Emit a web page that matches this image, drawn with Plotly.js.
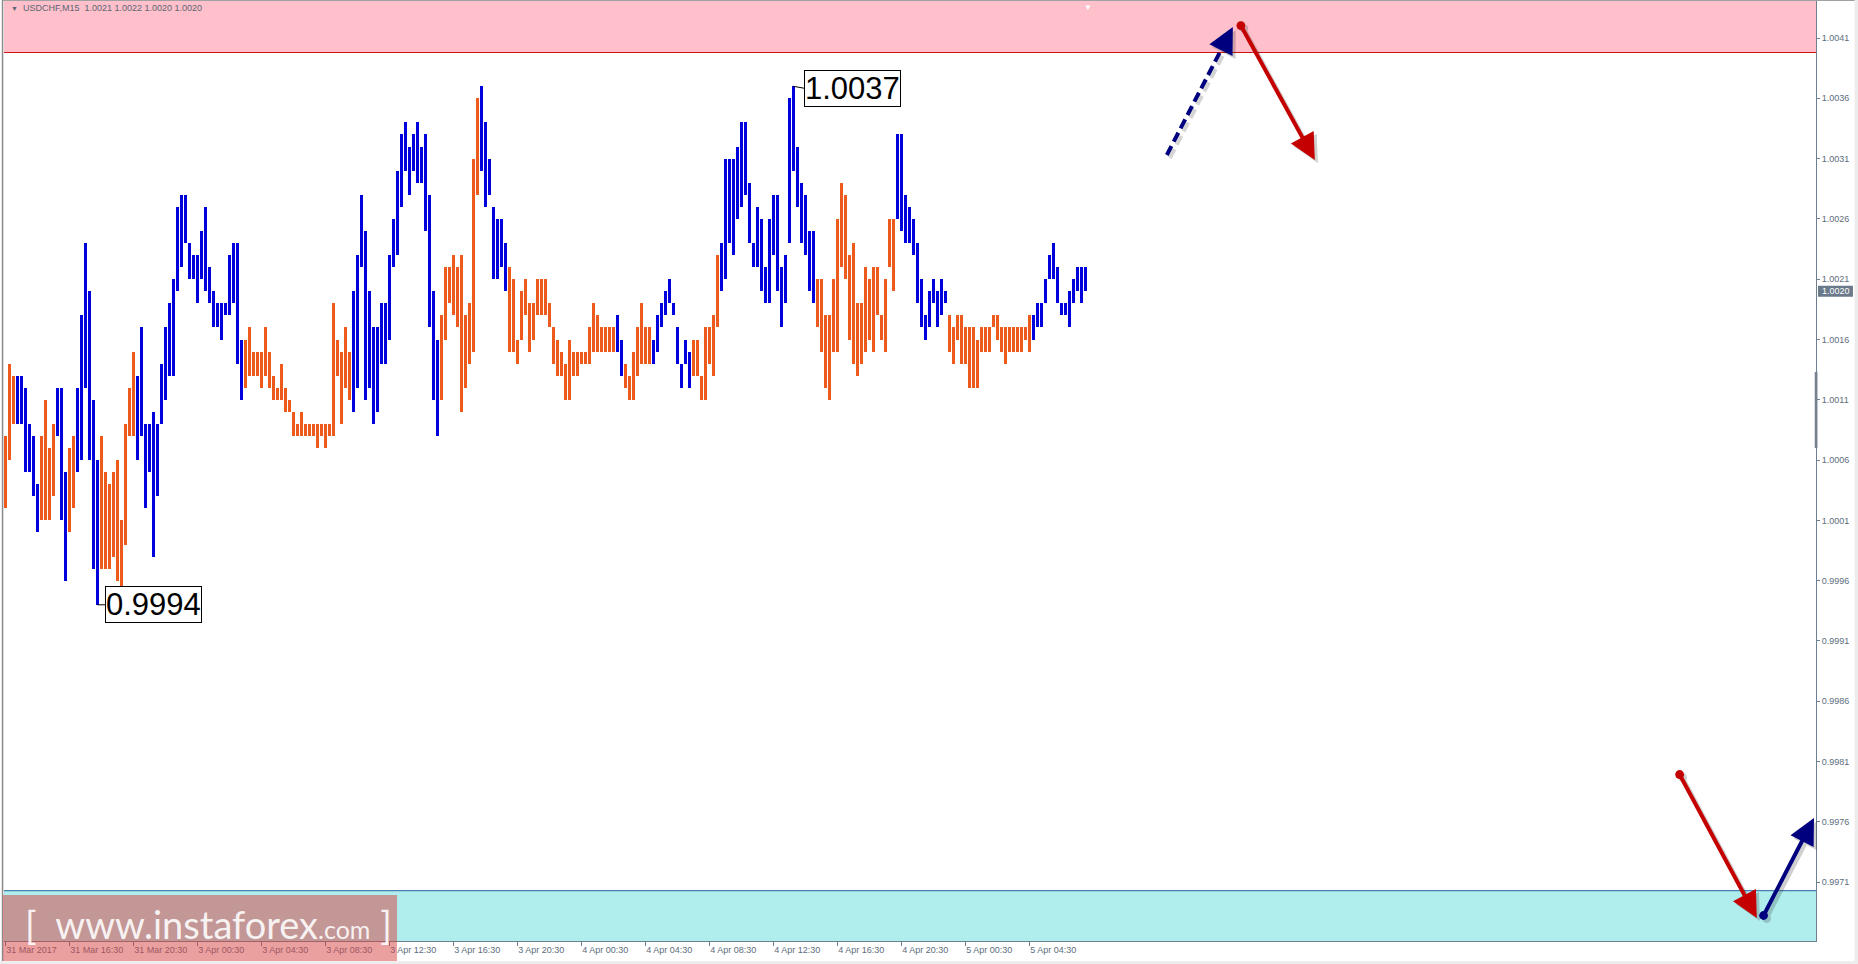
<!DOCTYPE html>
<html><head><meta charset="utf-8">
<script src="https://cdn.plot.ly/plotly-3.0.1.min.js"></script>
<style>html,body{margin:0;padding:0;background:#fff;overflow:hidden}#chart{width:1858px;height:964px}</style>
</head><body><div id="chart"></div>
<script>
// ---- data (USDCHF M15, bar high / low, 1 = blue bar, 0 = orange bar) ----
const highs = [
1.0008,1.0014,1.0013,1.0013,1.0013,1.0012,1.0009,1.0008,1.0004,1.0008,
1.0011,1.0007,1.0009,1.0012,1.0012,1.0005,1.0007,1.0008,1.0012,1.0018,
1.0024,1.0020,1.0011,1.0006,1.0008,1.0005,1.0004,1.0005,1.0006,1.0001,
1.0009,1.0012,1.0015,1.0013,1.0017,1.0009,1.0009,1.0010,1.0009,1.0014,
1.0017,1.0019,1.0021,1.0027,1.0028,1.0028,1.0024,1.0023,1.0023,1.0025,
1.0027,1.0022,1.0020,1.0019,1.0019,1.0019,1.0023,1.0024,1.0024,1.0016,
1.0016,1.0017,1.0015,1.0015,1.0015,1.0017,1.0015,1.0013,1.0012,1.0014,
1.0012,1.0011,1.0010,1.0009,1.0010,1.0009,1.0009,1.0009,1.0009,1.0009,
1.0009,1.0009,1.0019,1.0016,1.0015,1.0017,1.0015,1.0020,1.0023,1.0028,
1.0025,1.0020,1.0017,1.0017,1.0019,1.0019,1.0023,1.0026,1.0030,1.0033,
1.0034,1.0032,1.0033,1.0034,1.0032,1.0033,1.0028,1.0020,1.0016,1.0018,
1.0022,1.0022,1.0023,1.0022,1.0023,1.0018,1.0019,1.0031,1.0036,1.0037,
1.0034,1.0031,1.0027,1.0026,1.0026,1.0024,1.0022,1.0021,1.0016,1.0020,
1.0021,1.0019,1.0019,1.0021,1.0021,1.0021,1.0019,1.0017,1.0016,1.0015,
1.0014,1.0016,1.0015,1.0015,1.0015,1.0015,1.0017,1.0019,1.0018,1.0017,
1.0017,1.0017,1.0017,1.0018,1.0016,1.0014,1.0013,1.0015,1.0017,1.0019,
1.0017,1.0017,1.0016,1.0018,1.0019,1.0020,1.0021,1.0019,1.0017,1.0014,
1.0016,1.0015,1.0016,1.0016,1.0013,1.0017,1.0017,1.0018,1.0023,1.0024,
1.0031,1.0031,1.0031,1.0032,1.0034,1.0034,1.0029,1.0024,1.0027,1.0026,
1.0022,1.0026,1.0028,1.0028,1.0022,1.0023,1.0036,1.0037,1.0032,1.0029,
1.0028,1.0025,1.0025,1.0021,1.0021,1.0018,1.0018,1.0021,1.0026,1.0029,
1.0028,1.0023,1.0024,1.0019,1.0019,1.0022,1.0021,1.0022,1.0022,1.0018,
1.0021,1.0026,1.0026,1.0033,1.0033,1.0028,1.0027,1.0026,1.0024,1.0021,
1.0018,1.0020,1.0021,1.0020,1.0021,1.0020,1.0018,1.0017,1.0018,1.0018,
1.0017,1.0017,1.0017,1.0016,1.0017,1.0017,1.0017,1.0018,1.0018,1.0017,
1.0017,1.0017,1.0017,1.0017,1.0017,1.0017,1.0018,1.0018,1.0019,1.0019,
1.0021,1.0023,1.0024,1.0022,1.0019,1.0019,1.0020,1.0021,1.0022,1.0022,
1.0022];
const lows = [
1.0002,1.0006,1.0009,1.0009,1.0009,1.0005,1.0005,1.0003,1.0000,1.0001,
1.0001,1.0001,1.0003,1.0008,1.0001,0.9996,1.0000,1.0002,1.0005,1.0006,
1.0012,1.0006,0.9997,0.9994,0.9997,0.9997,0.9997,0.9998,0.9996,0.9995,
0.9999,1.0008,1.0008,1.0006,1.0008,1.0002,1.0005,0.9998,1.0003,1.0009,
1.0011,1.0013,1.0013,1.0020,1.0022,1.0024,1.0021,1.0021,1.0019,1.0021,
1.0020,1.0019,1.0017,1.0017,1.0016,1.0018,1.0018,1.0019,1.0014,1.0011,
1.0012,1.0013,1.0013,1.0013,1.0012,1.0013,1.0012,1.0011,1.0011,1.0011,
1.0010,1.0010,1.0008,1.0008,1.0008,1.0008,1.0008,1.0008,1.0007,1.0008,
1.0007,1.0008,1.0008,1.0013,1.0009,1.0012,1.0011,1.0010,1.0012,1.0022,
1.0011,1.0012,1.0009,1.0010,1.0014,1.0014,1.0016,1.0022,1.0023,1.0027,
1.0030,1.0028,1.0030,1.0029,1.0029,1.0025,1.0017,1.0011,1.0008,1.0011,
1.0016,1.0019,1.0018,1.0017,1.0010,1.0012,1.0014,1.0015,1.0028,1.0030,
1.0027,1.0028,1.0021,1.0021,1.0022,1.0020,1.0015,1.0015,1.0014,1.0016,
1.0018,1.0015,1.0016,1.0018,1.0018,1.0018,1.0017,1.0014,1.0013,1.0013,
1.0011,1.0011,1.0013,1.0013,1.0014,1.0014,1.0014,1.0015,1.0015,1.0015,
1.0015,1.0015,1.0015,1.0015,1.0013,1.0012,1.0011,1.0011,1.0013,1.0014,
1.0014,1.0014,1.0014,1.0015,1.0017,1.0018,1.0019,1.0018,1.0014,1.0012,
1.0014,1.0012,1.0013,1.0013,1.0011,1.0011,1.0014,1.0013,1.0017,1.0020,
1.0021,1.0024,1.0023,1.0026,1.0027,1.0028,1.0024,1.0022,1.0022,1.0020,
1.0019,1.0019,1.0023,1.0020,1.0017,1.0019,1.0024,1.0030,1.0027,1.0024,
1.0023,1.0020,1.0019,1.0017,1.0015,1.0012,1.0011,1.0015,1.0015,1.0022,
1.0021,1.0016,1.0014,1.0013,1.0014,1.0015,1.0016,1.0015,1.0018,1.0016,
1.0015,1.0022,1.0020,1.0026,1.0025,1.0024,1.0024,1.0023,1.0019,1.0017,
1.0016,1.0017,1.0019,1.0017,1.0018,1.0019,1.0015,1.0014,1.0016,1.0014,
1.0014,1.0012,1.0012,1.0012,1.0015,1.0015,1.0015,1.0017,1.0016,1.0015,
1.0014,1.0015,1.0015,1.0015,1.0015,1.0016,1.0015,1.0016,1.0017,1.0017,
1.0019,1.0021,1.0021,1.0019,1.0018,1.0018,1.0017,1.0019,1.0020,1.0019,
1.0020];
const upBar = [
0,0,0,1,1,1,1,1,1,0, 0,0,0,1,1,1,0,0,1,1, 1,1,1,1,0,0,0,0,0,0, 0,0,0,1,1,1,1,1,1,1,
1,1,1,1,1,1,1,1,1,1, 1,1,1,1,1,1,1,1,1,1, 0,0,0,0,0,0,0,0,0,0, 0,0,0,0,0,0,0,0,0,0,
0,0,0,0,0,0,0,1,1,1, 1,1,1,1,1,1,1,1,1,1, 1,1,1,1,1,1,1,1,1,0, 0,0,0,0,0,0,0,0,0,1,
1,1,1,1,1,1,0,0,0,0, 0,0,0,0,0,0,0,0,0,0, 0,0,0,0,0,0,0,0,0,0, 0,0,0,1,1,0,0,0,0,0,
0,0,1,1,1,1,1,1,1,1, 1,1,0,0,0,0,0,0,0,1, 1,1,1,1,1,1,1,1,1,1, 1,1,1,1,1,1,1,1,1,1,
1,1,1,0,0,0,0,0,0,0, 0,0,0,0,0,0,0,0,0,0, 0,0,0,1,1,1,1,1,1,1, 1,1,1,1,1,1,0,0,0,0,
0,0,0,0,0,0,0,0,0,0, 0,0,0,0,0,0,0,1,1,1, 1,1,1,1,1,1,1,1,1,1, 1];
const timeLabels = ['31 Mar 2017','31 Mar 16:30','31 Mar 20:30','3 Apr 00:30','3 Apr 04:30','3 Apr 08:30',
  '3 Apr 12:30','3 Apr 16:30','3 Apr 20:30','4 Apr 00:30','4 Apr 04:30','4 Apr 08:30','4 Apr 12:30',
  '4 Apr 16:30','4 Apr 20:30','5 Apr 00:30','5 Apr 04:30'];
const barsPerLabel = 16;
const priceTicks = [0.9971,0.9976,0.9981,0.9986,0.9991,0.9996,1.0001,1.0006,1.0011,1.0016,1.0021,1.0026,1.0031,1.0036,1.0041];
const resistanceLevel = 1.00398;
const supportLevel = 0.99703;
const lastPrice = 1.0020;
const lowMark = [23, 0.9994];
const highMark = [197, 1.0037];
const headerText = 'USDCHF,M15\u00a0\u00a01.0021 1.0022 1.0020 1.0020';
// forecast arrows: [barIndex, price]
const blueDashFrom = [290.4, 1.00313], blueDashHeadFrom = [304.05, 1.004007], blueDashTo = [306.9, 1.004191];
const redTopFrom = [308.7, 1.004216], redTopTo = [327.4, 1.003088];
const redBottomFrom = [418.4, 0.998005], redBottomTo = [437.9, 0.996803];
const blueBottomFrom = [439.4, 0.996811], blueBottomTo = [452.2, 0.997632];

// ---- styling ----
const BLUE = '#0000dc', ORANGE = '#ec5a1c', NAVY = '#00007e', RED = '#c40000';
const AXIS = '#6e7f8f', TXT = '#5d6d7c';
const FONT = 'Liberation Sans, Arial, sans-serif';

const idx = highs.map((_, i) => i);
const trace = {
  type: 'bar', x: idx, base: lows, y: highs.map((h, i) => h - lows[i]),
  width: 0.75, marker: {color: upBar.map(u => u ? BLUE : ORANGE), line: {width: 0}},
  hoverinfo: 'skip', showlegend: false
};

function arrow(from, to, color, dot, shadow) {
  const a = {x: to[0], y: to[1], ax: from[0], ay: from[1], xref: 'x', yref: 'y', axref: 'x', ayref: 'y',
    text: '', showarrow: true, arrowhead: 2, arrowsize: 1.3, arrowwidth: 4, arrowcolor: color,
    standoff: 0, startstandoff: 0};
  if (dot) { a.arrowside = 'end+start'; a.startarrowhead = 6; a.startarrowsize = 0.55; }
  if (shadow) { a.arrowcolor = 'rgba(40,40,40,0.22)'; a.xshift = 3; a.yshift = -3; }
  return a;
}

const annotations = [
  {xref: 'paper', yref: 'paper', x: 0.0028, y: 0.9925, xanchor: 'left', yanchor: 'middle', showarrow: false,
   text: '\u25BC', font: {family: FONT, size: 7, color: '#5b6573'}},
  {xref: 'paper', yref: 'paper', x: 0.0092, y: 0.9925, xanchor: 'left', yanchor: 'middle', showarrow: false,
   text: headerText, font: {family: FONT, size: 9, color: '#5b6573'}},
  {xref: 'paper', yref: 'paper', x: 0.5982, y: 1.0, xanchor: 'center', yanchor: 'top', showarrow: false,
   text: '\u25BC', font: {family: FONT, size: 8, color: '#ffffff'}},
  {xref: 'paper', yref: 'y', x: 1, y: lastPrice, xanchor: 'left', yanchor: 'middle', xshift: 4, showarrow: false,
   text: lastPrice.toFixed(4), font: {family: FONT, size: 9, color: '#ffffff'}},
  {xref: 'x', yref: 'y', x: lowMark[0], y: lowMark[1], ax: 8, ay: 0, xanchor: 'left', yanchor: 'middle',
   showarrow: true, arrowhead: 0, arrowwidth: 1, arrowcolor: '#000', text: lowMark[1].toFixed(4),
   font: {family: FONT, size: 31, color: '#000'}, bgcolor: '#fff', bordercolor: '#000', borderwidth: 1, borderpad: 0},
  {xref: 'x', yref: 'y', x: highMark[0], y: highMark[1], ax: 11, ay: 2, xanchor: 'left', yanchor: 'middle',
   showarrow: true, arrowhead: 0, arrowwidth: 1, arrowcolor: '#000', text: highMark[1].toFixed(4),
   font: {family: FONT, size: 31, color: '#000'}, bgcolor: '#fff', bordercolor: '#000', borderwidth: 1, borderpad: 0},
  // shadows
  arrow(redTopFrom, redTopTo, RED, true, true),
  arrow(redBottomFrom, redBottomTo, RED, true, true),
  arrow(blueBottomFrom, blueBottomTo, NAVY, true, true),
  arrow(blueDashHeadFrom, blueDashTo, NAVY, false, true),
  // arrows
  arrow(blueDashHeadFrom, blueDashTo, NAVY, false, false),
  arrow(redTopFrom, redTopTo, RED, true, false),
  arrow(redBottomFrom, redBottomTo, RED, true, false),
  arrow(blueBottomFrom, blueBottomTo, NAVY, true, false),
  // watermark text
  {xref: 'paper', yref: 'paper', x: 0.0105, y: 0.018, xanchor: 'left', yanchor: 'middle', showarrow: false,
   text: '[\u00a0 www.instaforex<span style="font-size:25px">.com</span> ]',
   font: {family: 'Lato, Open Sans, sans-serif', size: 38, color: 'rgba(255,255,255,0.88)'}}
];

const shapes = [
  {type: 'rect', xref: 'paper', yref: 'y', x0: 0, x1: 1, y0: resistanceLevel, y1: 1.006, fillcolor: '#ffc0cb', line: {width: 0}, layer: 'below'},
  {type: 'line', xref: 'paper', yref: 'y', x0: 0, x1: 1, y0: resistanceLevel, y1: resistanceLevel, line: {color: '#cc1414', width: 1.2}, layer: 'below'},
  {type: 'rect', xref: 'paper', yref: 'y', x0: 0, x1: 1, y0: 0.994, y1: supportLevel, fillcolor: '#b0eded', line: {width: 0}, layer: 'below'},
  {type: 'line', xref: 'paper', yref: 'y', x0: 0, x1: 1, y0: supportLevel, y1: supportLevel, line: {color: '#4a80b4', width: 1.2}, layer: 'below'},
  // dashed shaft (shadow + line)
  {type: 'line', xref: 'x', yref: 'y', x0: blueDashFrom[0] + 0.75, y0: blueDashFrom[1] - 0.000025, x1: blueDashHeadFrom[0] + 0.75, y1: blueDashHeadFrom[1] - 0.000025,
   line: {color: 'rgba(40,40,40,0.2)', width: 4, dash: '10px,5px'}, layer: 'above'},
  {type: 'line', xref: 'x', yref: 'y', x0: blueDashFrom[0], y0: blueDashFrom[1], x1: blueDashHeadFrom[0], y1: blueDashHeadFrom[1],
   line: {color: NAVY, width: 4, dash: '10px,5px'}, layer: 'above'},
  // current price tag background
  {type: 'rect', xref: 'paper', yref: 'y', ysizemode: 'pixel', yanchor: lastPrice, y0: -5.5, y1: 5.5,
   x0: 1.0011, x1: 1.0204, fillcolor: '#6b7a8a', line: {width: 0}, layer: 'above'},
  // axis scroll marker
  {type: 'rect', xref: 'paper', yref: 'y', x0: 0.9993, x1: 1.0008, y0: 1.00070, y1: 1.00133, fillcolor: '#75818d', line: {width: 0}, layer: 'above'},
  // frame
  {type: 'line', xref: 'paper', yref: 'paper', x0: -0.0008, x1: -0.0008, y0: -0.0215, y1: 1.001, line: {color: '#8a8a8a', width: 1.5}},
  {type: 'line', xref: 'paper', yref: 'paper', x0: -0.0008, x1: 1.0215, y0: 1.0006, y1: 1.0006, line: {color: '#9a9a9a', width: 1}},
  {type: 'rect', xref: 'paper', yref: 'paper', x0: 1.0213, x1: 1.03, y0: -0.03, y1: 1.01, fillcolor: '#ececec', line: {width: 0}},
  {type: 'rect', xref: 'paper', yref: 'paper', x0: -0.01, x1: 1.03, y0: -0.03, y1: -0.0215, fillcolor: '#ececec', line: {width: 0}},
  // watermark box
  {type: 'rect', xref: 'paper', yref: 'paper', x0: -0.0006, x1: 0.2169, y0: -0.0213, y1: 0.0489,
   fillcolor: 'rgba(215,65,65,0.5)', line: {width: 0}, layer: 'above'}
];

const layout = {
  width: 1858, height: 964,
  margin: {l: 4, r: 42, t: 1, b: 23, pad: 0},
  paper_bgcolor: '#ffffff', plot_bgcolor: '#ffffff',
  showlegend: false, bargap: 0,
  xaxis: {range: [-0.33, 452.7], showgrid: false, zeroline: false, showline: true, linecolor: AXIS, linewidth: 1,
    tickvals: timeLabels.map((_, k) => k * barsPerLabel), ticktext: timeLabels, ticks: 'outside', ticklen: 4,
    tickcolor: AXIS, ticklabelposition: 'outside right', tickfont: {family: FONT, size: 9, color: TXT}, fixedrange: true},
  yaxis: {range: [0.996612, 1.004407], side: 'right', showgrid: false, zeroline: false, showline: true, linecolor: AXIS,
    linewidth: 1, tickvals: priceTicks, ticktext: priceTicks.map(v => v.toFixed(4)), ticks: 'outside', ticklen: 3,
    tickcolor: AXIS, tickfont: {family: FONT, size: 9, color: TXT}, fixedrange: true},
  shapes: shapes,
  annotations: annotations
};

Plotly.newPlot('chart', [trace], layout, {displayModeBar: false, staticPlot: true});
</script>
</body></html>
